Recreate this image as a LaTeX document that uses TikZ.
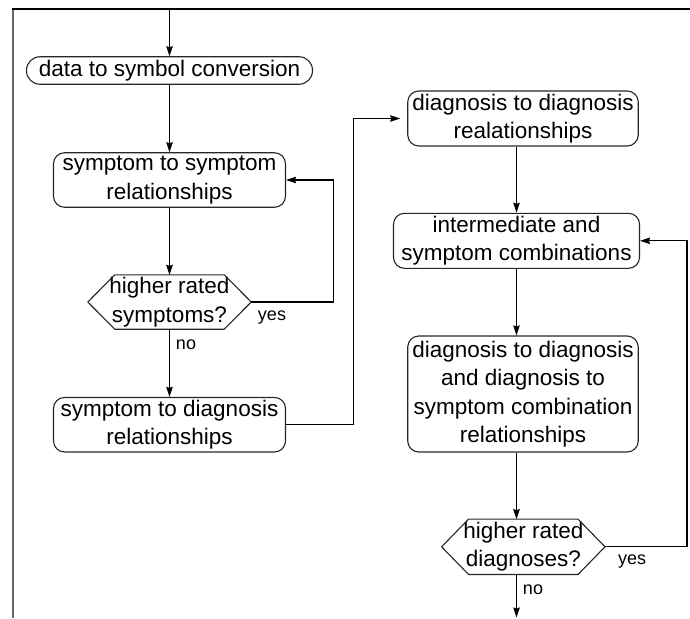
\documentclass[tikz,border=0pt]{standalone}
\usepackage{fontspec}
\setmainfont{Liberation Sans}
\usetikzlibrary{arrows.meta}
\begin{document}
\begin{tikzpicture}[x=1pt,y=-1pt,
  procbox/.style={draw=black!85, line width=1.1pt, rounded corners=11pt,
    inner sep=0pt, align=center, font=\fontsize{22.5}{28.5}\selectfont},
  decbox/.style={inner sep=0pt, align=center, minimum width=163pt,
    minimum height=54pt, font=\fontsize{22.5}{28.5}\selectfont},
  hexline/.style={draw=black!85, line width=1.1pt},
  arr/.style={draw=black, line width=1.1pt,
    -{Stealth[length=10pt,width=6.5pt,inset=1pt]}},
  lbl/.style={inner sep=0pt, font=\fontsize{18}{20}\selectfont}]
\useasboundingbox (0,0) rectangle (690,618);

% page frame
\draw[black!60, line width=2pt] (13,618) -- (13,9);
\draw[black, line width=1.3pt] (12,9) -- (690,9);

% left column
\node[procbox, rounded corners=13.5pt, minimum width=286pt, minimum height=27.5pt]
  (n1) at (169.5,70.5) {data to symbol conversion};
\node[procbox, minimum width=232pt, minimum height=54.5pt]
  (n2) at (169.5,180) {symptom to symptom\\relationships};
\node[decbox] (h1) at (169.5,302) {higher rated\\symptoms?};
\node[procbox, minimum width=232pt, minimum height=54.5pt]
  (n3) at (169.5,424.7) {symptom to diagnosis\\relationships};

% right column
\node[procbox, minimum width=230.5pt, minimum height=55pt]
  (n4) at (523,118.5) {diagnosis to diagnosis\\realationships};
\node[procbox, minimum width=246pt, minimum height=55pt]
  (n5) at (516.5,240.8) {intermediate and\\symptom combinations};
\node[procbox, minimum width=230.5pt, minimum height=116pt]
  (n6) at (523,394) {diagnosis to diagnosis\\and diagnosis to\\symptom combination\\relationships};
\node[decbox, minimum height=55pt] (h2) at (523.3,546.8) {higher rated\\diagnoses?};

% hexagonal decision outlines
\foreach \h in {h1,h2}{
  \draw[hexline] (\h.west) -- ([xshift=27pt]\h.north west)
    -- ([xshift=-27pt]\h.north east) -- (\h.east)
    -- ([xshift=-27pt]\h.south east) -- ([xshift=27pt]\h.south west) -- cycle;
}

% free ends of the flow
\coordinate (in) at (169.5,9);
\coordinate (out) at (516.5,617.5);

% connectors
\draw[arr] (in) -- (n1.north);
\draw[arr] (n1.south) -- (n2.north);
\draw[arr] (n2.south) -- (h1.north);
\draw[arr] (h1.south) -- (n3.north);
\draw[arr] (h1.east) -- ++(82,0) |- (n2.east);
\draw[arr, shorten >=7pt] (n3.east) -- ++(67,0) |- (n4.west);
\draw[arr] (n5 |- n4.south) -- (n5.north);
\draw[arr] (n5.south) -- (n5 |- n6.north);
\draw[arr] (n5 |- n6.south) -- (n5 |- h2.north);
\draw[arr] (h2.east) -- ++(82,0) |- (n5.east);
\draw[arr] (n5 |- h2.south) -- (out);

% branch labels
\node[lbl] (y1) at (272,318) {yes};
\node[lbl] (o1) at (186,345) {no};
\node[lbl] (y2) at (632,562) {yes};
\node[lbl] (o2) at (533,590) {no};
\end{tikzpicture}
\end{document}
